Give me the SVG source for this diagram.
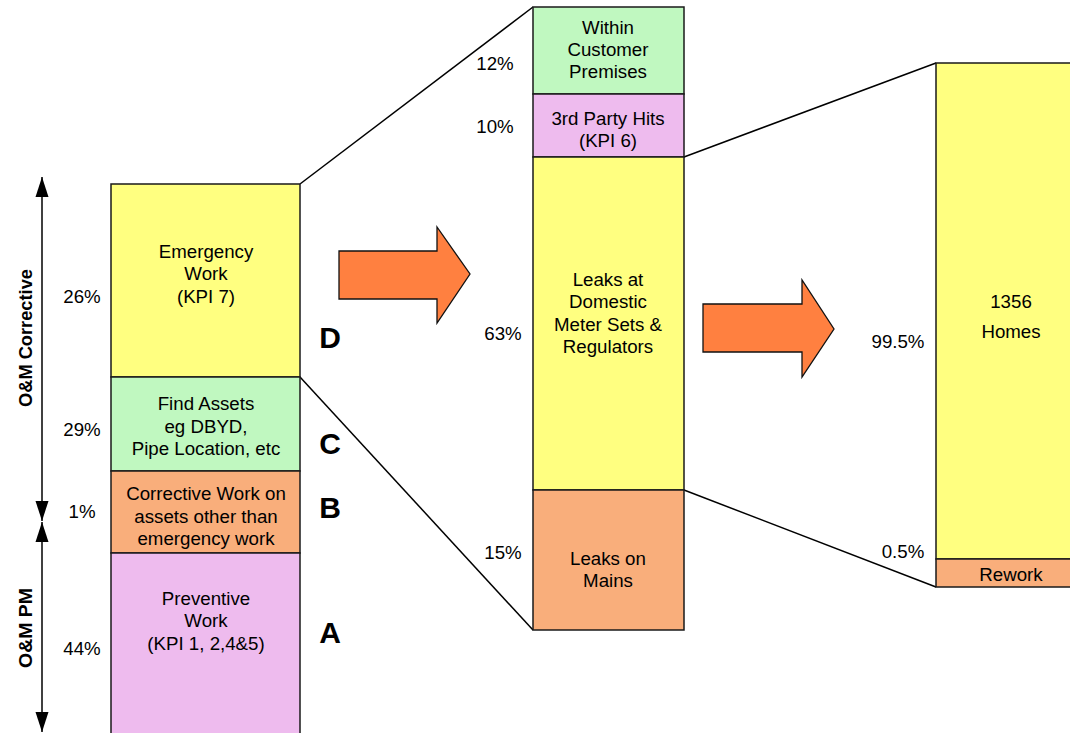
<svg xmlns="http://www.w3.org/2000/svg" width="1070" height="733" viewBox="0 0 1070 733">
<defs>
<style>
.t{font-family:"Liberation Sans",Arial,sans-serif;font-size:18.7px;fill:#000;text-anchor:middle}
.b{font-family:"Liberation Sans",Arial,sans-serif;font-size:30px;font-weight:bold;fill:#000;text-anchor:middle}
.v{font-family:"Liberation Sans",Arial,sans-serif;font-size:18px;font-weight:bold;fill:#000;text-anchor:middle}
.box{stroke:#1a1a1a;stroke-width:1.5}
.y{fill:#FFFF80}.g{fill:#C0F8C0}.o{fill:#F9AE7B}.p{fill:#EEBBEE}
.arr{fill:#FF8040;stroke:#111;stroke-width:1.3}
.ln{stroke:#000;stroke-width:1.5;fill:none}
</style>
<marker id="ah" viewBox="0 0 20 14" refX="20" refY="7" markerWidth="20" markerHeight="14" markerUnits="userSpaceOnUse" orient="auto-start-reverse">
<path d="M0,0.5 L20,7 L0,13.5 Z" fill="#000"/>
</marker>
</defs>
<rect width="1070" height="733" fill="#fff"/>

<g id="connectors">
<line class="ln" x1="300" y1="184" x2="533" y2="7"/>
<line class="ln" x1="300" y1="377" x2="533" y2="630"/>
<line class="ln" x1="684" y1="157" x2="936" y2="63"/>
<line class="ln" x1="684" y1="490" x2="936" y2="587"/>
<line class="ln" x1="42" y1="177" x2="42" y2="521" marker-end="url(#ah)" marker-start="url(#ah)"/>
<line class="ln" x1="42" y1="522" x2="42" y2="732" marker-end="url(#ah)" marker-start="url(#ah)"/>
</g>

<g id="axis-labels">
<text class="v" transform="translate(32,338) rotate(-90)" textLength="138" lengthAdjust="spacingAndGlyphs">O&amp;M Corrective</text>
<text class="v" transform="translate(32,628) rotate(-90)" textLength="80" lengthAdjust="spacingAndGlyphs">O&amp;M PM</text>
<text class="t" x="82" y="303">26%</text>
<text class="t" x="82" y="436">29%</text>
<text class="t" x="82" y="518">1%</text>
<text class="t" x="82" y="655">44%</text>
</g>

<g id="emergency">
<rect class="box y" x="111" y="184" width="189" height="193"/>
<text class="t" x="206" y="258">Emergency</text>
<text class="t" x="206" y="280">Work</text>
<text class="t" x="206" y="303">(KPI 7)</text>
</g>
<g id="find-assets">
<rect class="box g" x="111" y="377" width="189" height="94"/>
<text class="t" x="206" y="410">Find Assets</text>
<text class="t" x="206" y="433">eg DBYD,</text>
<text class="t" x="206" y="455">Pipe Location, etc</text>
</g>
<g id="corrective">
<rect class="box o" x="111" y="471" width="189" height="82"/>
<text class="t" x="206" y="500">Corrective Work on</text>
<text class="t" x="206" y="523">assets other than</text>
<text class="t" x="206" y="545">emergency work</text>
</g>
<g id="preventive">
<rect class="box p" x="111" y="553" width="189" height="190"/>
<text class="t" x="206" y="605">Preventive</text>
<text class="t" x="206" y="627">Work</text>
<text class="t" x="206" y="650">(KPI 1, 2,4&amp;5)</text>
</g>
<g id="letters">
<text class="b" x="330" y="348">D</text>
<text class="b" x="330" y="454">C</text>
<text class="b" x="330" y="518">B</text>
<text class="b" x="330" y="643">A</text>
</g>

<g id="arrow1"><path class="arr" d="M339,251 L437,251 L437,227 L470,274 L437,323 L437,299 L339,299 Z"/></g>
<g id="arrow2"><path class="arr" d="M703,304 L802,304 L802,280 L834,329 L802,377 L802,352 L703,352 Z"/></g>

<g id="within">
<rect class="box g" x="533" y="7" width="151" height="87"/>
<text class="t" x="608" y="34">Within</text>
<text class="t" x="608" y="56">Customer</text>
<text class="t" x="608" y="78">Premises</text>
</g>
<g id="third-party">
<rect class="box p" x="533" y="94" width="151" height="63"/>
<text class="t" x="608" y="125">3rd Party Hits</text>
<text class="t" x="608" y="147">(KPI 6)</text>
</g>
<g id="leaks-meter">
<rect class="box y" x="533" y="157" width="151" height="333"/>
<text class="t" x="608" y="286">Leaks at</text>
<text class="t" x="608" y="308">Domestic</text>
<text class="t" x="608" y="331">Meter Sets &amp;</text>
<text class="t" x="608" y="353">Regulators</text>
</g>
<g id="leaks-mains">
<rect class="box o" x="533" y="490" width="151" height="140"/>
<text class="t" x="608" y="565">Leaks on</text>
<text class="t" x="608" y="587">Mains</text>
</g>
<g id="mid-pct">
<text class="t" x="495" y="70">12%</text>
<text class="t" x="495" y="133">10%</text>
<text class="t" x="503" y="340">63%</text>
<text class="t" x="503" y="559">15%</text>
</g>

<g id="homes">
<rect class="box y" x="936" y="63" width="150" height="496"/>
<text class="t" x="1011" y="308">1356</text>
<text class="t" x="1011" y="338">Homes</text>
</g>
<g id="rework">
<rect class="box o" x="936" y="559" width="150" height="28"/>
<text class="t" x="1011" y="581">Rework</text>
</g>
<g id="right-pct">
<text class="t" x="898" y="348">99.5%</text>
<text class="t" x="903" y="558">0.5%</text>
</g>
</svg>
